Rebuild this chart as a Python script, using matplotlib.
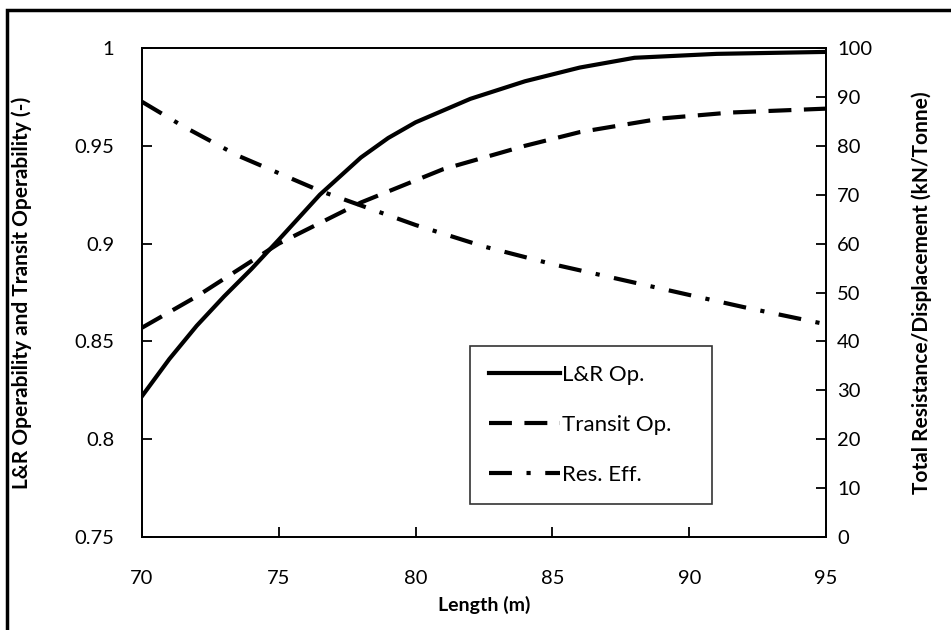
import matplotlib
matplotlib.use('Agg')
import matplotlib.pyplot as plt
from matplotlib.patches import Rectangle

plt.rcParams['font.family'] = ['Lato', 'DejaVu Sans']

# L&R operability (solid)
len_lr = [70, 71, 72, 73, 74, 75, 76.5, 78, 79, 80, 82, 84, 86, 88, 91, 95]
op_lr = [0.822, 0.841, 0.858, 0.873, 0.887, 0.902, 0.925, 0.944, 0.954,
         0.962, 0.974, 0.983, 0.990, 0.995, 0.997, 0.998]

# transit operability (dashed)
len_tr = [70, 72, 74, 75, 78, 81, 84, 86, 89, 91.5, 95]
op_tr = [0.857, 0.873, 0.891, 0.900, 0.921, 0.938, 0.950, 0.957, 0.964,
         0.967, 0.969]

# resistance efficiency (dash-dot, right axis)
len_res = [70, 71.5, 73.5, 75, 76.5, 80, 82.5, 85, 90, 92, 95]
res_eff = [89.0, 84.0, 78.0, 74.4, 70.8, 63.8, 59.4, 55.8, 49.5, 47.0, 43.5]

x_ticks = [70, 75, 80, 85, 90, 95]
y_ticks = [0.75, 0.8, 0.85, 0.9, 0.95, 1]
y_labels = ['0.75', '0.8', '0.85', '0.9', '0.95', '1']
y2_ticks = list(range(0, 101, 10))

fig = plt.figure(figsize=(9.51, 6.3), dpi=100)
ax = fig.add_axes([142 / 951, 1 - 537 / 630, 684 / 951, 489 / 630])
ax2 = ax.twinx()

l1, = ax.plot(len_lr, op_lr, color='black', lw=3, label='L&R Op.')
l2, = ax.plot(len_tr, op_tr, color='black', lw=3, dashes=(5.5, 3),
              dash_capstyle='butt', label='Transit Op.')
l3, = ax2.plot(len_res, res_eff, color='black', lw=3,
               dashes=(5.5, 3.5, 1, 3.5), dash_capstyle='butt', label='Res. Eff.')

ax.set_xlim(70, 95)
ax.set_ylim(0.75, 1)
ax2.set_ylim(0, 100)
ax.set_xticks(x_ticks)
ax.set_yticks(y_ticks)
ax.set_yticklabels(y_labels)
ax2.set_yticks(y2_ticks)

for a in (ax, ax2):
    for s in a.spines.values():
        s.set_linewidth(1.3)
ax.tick_params(axis='x', direction='in', length=7, width=1.3, pad=24, labelsize=14.5)
ax.tick_params(axis='y', direction='in', length=7, width=1.3, pad=20, labelsize=14.5)
ax2.tick_params(axis='y', direction='in', length=7, width=1.3, pad=8, labelsize=14.5)

ax.set_xlabel('Length (m)', fontsize=14, fontweight='bold', va='center')
ax.xaxis.set_label_coords(0.5, (537 - 605) / 489)
ax.set_ylabel('L&R Operability and Transit Operability (-)', fontsize=15,
              fontweight='bold', va='center')
ax.yaxis.set_label_coords((22 - 142) / 684, 0.5)
ax2.set_ylabel('Total Resistance/Displacement (kN/Tonne)', fontsize=15,
               fontweight='bold', va='center')
ax2.yaxis.set_label_coords((922 - 142) / 684, 0.5)

leg = ax.legend(handles=[l1, l2, l3], loc='upper left',
                bbox_to_anchor=(470 / 951, 1 - 500 / 630, 242 / 951, 154 / 630),
                bbox_transform=fig.transFigure, mode='expand',
                fontsize=16, frameon=True, fancybox=False, handlelength=3.2,
                labelspacing=1.35, borderpad=0.85, handletextpad=0.1, borderaxespad=0)
leg.get_frame().set_edgecolor('black')
leg.get_frame().set_linewidth(1.2)

# outer frame around the picture
fig.patches.append(Rectangle((7 / 951, -0.1), 1.1, 1 - 10 / 630 + 0.1,
                             transform=fig.transFigure, fill=False,
                             edgecolor='black', lw=2.5, clip_on=False))

fig.savefig('out.png', dpi=100)
